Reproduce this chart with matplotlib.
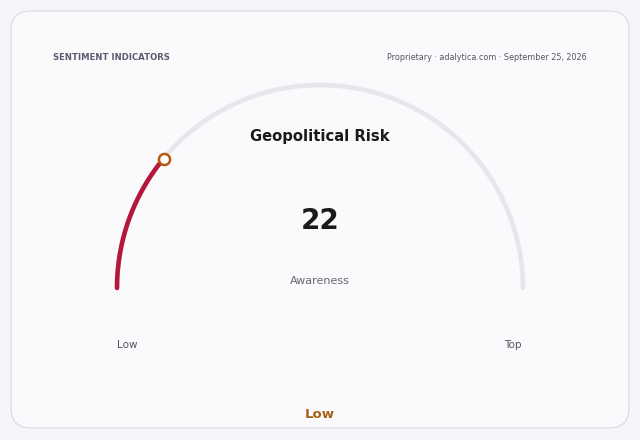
import numpy as np
import matplotlib.pyplot as plt
from matplotlib.patches import FancyBboxPatch

title = "Geopolitical Risk"
value = 22
vmin, vmax = 0, 100
unit_label = "Awareness"
low_label, high_label = "Low", "Top"
band_label = "Low"
header_left = "SENTIMENT INDICATORS"
header_right = "Proprietary · adalytica.com · September 25, 2026"

fig = plt.figure(figsize=(6.4, 4.4), dpi=100)
fig.patch.set_facecolor("#f6f6fa")
ax = fig.add_axes([0, 0, 1, 1])
ax.set_xlim(0, 640)
ax.set_ylim(440, 0)
ax.axis("off")

# card
card = FancyBboxPatch((11, 11), 618, 417, boxstyle="round,pad=0,rounding_size=20",
                      fc="#fafafd", ec="#dedee8", lw=1)
ax.add_patch(card)

# gauge geometry
cx, cy, r = 320, 288, 203

def arc(v0, v1, n=200):
    a0 = np.pi * (1 - (v0 - vmin) / (vmax - vmin))
    a1 = np.pi * (1 - (v1 - vmin) / (vmax - vmin))
    t = np.linspace(a0, a1, n)
    return cx + r * np.cos(t), cy - r * np.sin(t)

tx, ty = arc(vmin, vmax)
ax.plot(tx, ty, color="#e6e6eb", lw=3.3, solid_capstyle="round")
vx, vy = arc(vmin, value)
ax.plot(vx, vy, color="#b5173c", lw=3.3, solid_capstyle="round")
ax.plot(vx[-1], vy[-1], "o", ms=8, mfc="white", mec="#b35a12", mew=1.8)

ax.text(53, 57, header_left, fontsize=6.1, fontweight="bold", color="#5b5b70",
        ha="left", va="center")
ax.text(587, 57, header_right, fontsize=5.8, color="#55555f", ha="right", va="center")

ax.text(320, 137, title, fontsize=10.6, fontweight="bold", color="#1a1a1a",
        ha="center", va="center")
ax.text(320, 221, str(value), fontsize=20, fontweight="bold", color="#1a1a1a",
        ha="center", va="center")
ax.text(320, 281, unit_label, fontsize=8, color="#666670", ha="center", va="center")
ax.text(127, 345, low_label, fontsize=7.5, color="#555560", ha="center", va="center")
ax.text(513, 345, high_label, fontsize=7.5, color="#555560", ha="center", va="center")
ax.text(320, 414, band_label, fontsize=9.5, fontweight="bold", color="#a45f17",
        ha="center", va="center")

fig.savefig("out.png", dpi=100, facecolor=fig.get_facecolor())
